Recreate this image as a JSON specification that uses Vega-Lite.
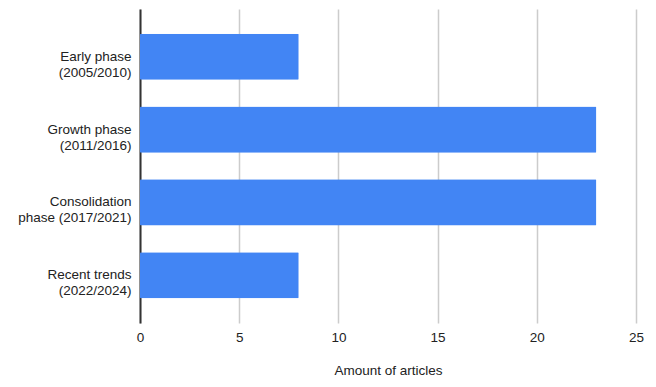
{
  "$schema": "https://vega.github.io/schema/vega-lite/v6.json",
  "autosize": {"type": "none"},
  "padding": {"left": 140, "top": 9, "right": 20, "bottom": 64},
  "width": 496,
  "height": 314,
  "background": "white",
  "config": {"view": {"stroke": null}, "font": "Liberation Sans"},
  "data": {"values": [
    {"phase": "Early phase|(2005/2010)", "articles": 8},
    {"phase": "Growth phase|(2011/2016)", "articles": 23},
    {"phase": "Consolidation|phase (2017/2021)", "articles": 23},
    {"phase": "Recent trends|(2022/2024)", "articles": 8}
  ]},
  "mark": {"type": "bar", "color": "#4285F4", "cornerRadius": 1},
  "encoding": {
    "y": {
      "field": "phase", "type": "nominal", "sort": null,
      "scale": {"paddingInner": 0.367, "paddingOuter": 0.34},
      "axis": {
        "title": null, "labelExpr": "split(datum.label, '|')",
        "labelFontSize": 13.5, "labelColor": "#222", "labelLineHeight": 16,
        "labelPadding": 9, "ticks": false, "domainColor": "#333", "domainWidth": 2,
        "grid": false
      }
    },
    "x": {
      "field": "articles", "type": "quantitative",
      "scale": {"domain": [0, 25]},
      "axis": {
        "title": "Amount of articles", "titleFontSize": 13.5, "titleFontWeight": "normal",
        "titleColor": "#222", "titlePadding": 20,
        "values": [0, 5, 10, 15, 20, 25], "labelFontSize": 13.5, "labelColor": "#222",
        "labelPadding": 7, "labelFlush": false, "ticks": false, "domain": false,
        "gridColor": "#ccc", "gridWidth": 1.5
      }
    }
  }
}
